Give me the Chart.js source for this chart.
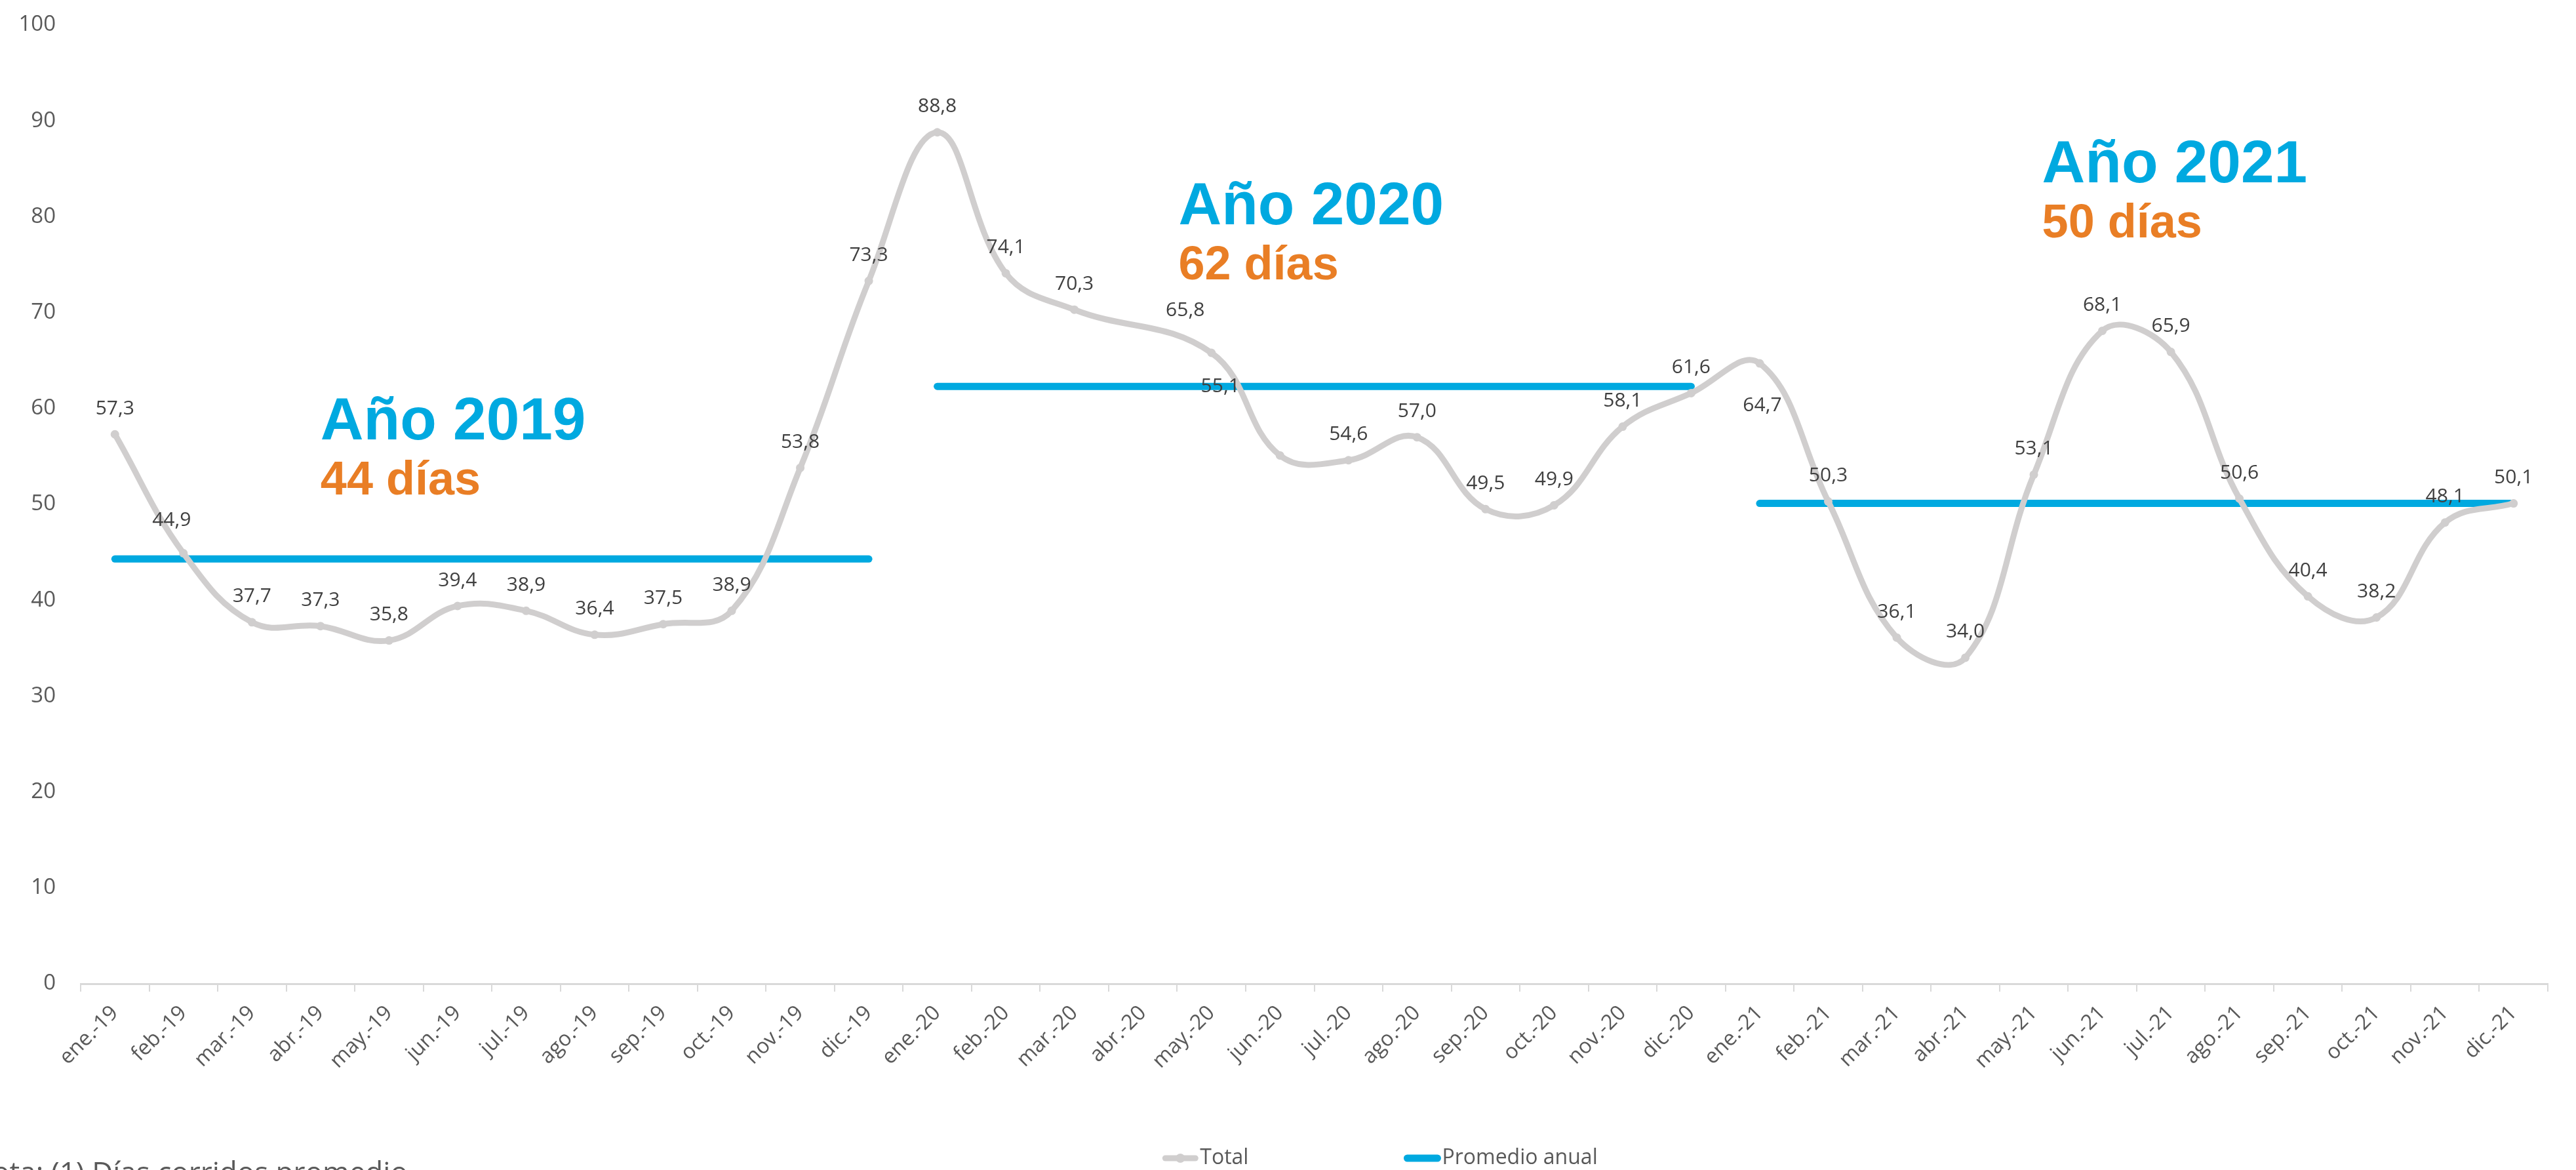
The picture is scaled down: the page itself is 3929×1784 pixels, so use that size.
<!DOCTYPE html>
<html lang="es">
<head>
  <meta charset="UTF-8">
  <title>Días corridos promedio</title>
  <script src="https://cdn.jsdelivr.net/npm/chart.js"></script>
  <style>
    body {
      margin: 0;
      background: #fff;
      overflow: hidden;
    }
    #contenedor {
      position: relative;
      width: 3929px;
      height: 1784px;
    }
    #nota {
      position: absolute;
      left: -45px;
      top: 1764px;
      font-family: 'Open Sans', sans-serif;
      font-size: 44px;
      line-height: 1;
      color: #595959;
      white-space: nowrap;
    }
  </style>
</head>
<body>
  <div id="contenedor">
    <canvas id="grafico" width="3929" height="1784"></canvas>
    <div id="nota">Nota: (1) Días corridos promedio</div>
  </div>

  <script>
    // datos
    const meses = ['ene.', 'feb.', 'mar.', 'abr.', 'may.', 'jun.', 'jul.', 'ago.', 'sep.', 'oct.', 'nov.', 'dic.'];
    const anios = ['19', '20', '21'];
    const total2019 = [57.3, 44.9, 37.7, 37.3, 35.8, 39.4, 38.9, 36.4, 37.5, 38.9, 53.8, 73.3];
    const total2020 = [88.8, 74.1, 70.3, null, 65.8, 55.1, 54.6, 57.0, 49.5, 49.9, 58.1, 61.6];
    const total2021 = [64.7, 50.3, 36.1, 34.0, 53.1, 68.1, 65.9, 50.6, 40.4, 38.2, 48.1, 50.1];
    const promedioAnual = [44.3, 62.3, 50.1];
    const titulosAnio = ['Año 2019', 'Año 2020', 'Año 2021'];
    const diasAnio = ['44 días', '62 días', '50 días'];

    const AZUL = '#00A9E0';
    const NARANJA = '#E97E25';
    const GRIS = '#D0CECE';
    const TEXTO = '#595959';

    const etiquetas = anios.flatMap(a => meses.map(m => m + '-' + a));
    const totales = [...total2019, ...total2020, ...total2021];
    const promedios = anios.flatMap((a, i) => meses.map(() => promedioAnual[i]));
    const anioDe = i => Math.floor(i / 12);

    // dónde va cada título de año (índice de mes, valor del eje)
    const anclasTitulo = [[3.0, 56.8], [15.52, 79.2], [28.12, 83.6]];
    // etiquetas que en el original están corridas (dx, dy en px)
    const desplazamientos = { 1: [-18, -50], 16: [-40, -65], 17: [-91, -105], 24: [4, 64] };

    const pluginEtiquetas = {
      id: 'etiquetas',
      afterDatasetsDraw(chart) {
        const ctx = chart.ctx;
        const meta = chart.getDatasetMeta(0);
        const x = chart.scales.x, y = chart.scales.y;
        ctx.save();

        // valores de cada punto
        ctx.font = '30px "Open Sans"';
        ctx.fillStyle = '#404040';
        ctx.textAlign = 'center';
        ctx.textBaseline = 'middle';
        meta.data.forEach((pt, i) => {
          const v = totales[i];
          if (v === null) return;
          const d = desplazamientos[i] || [0, -39];
          ctx.fillText(v.toFixed(1).replace('.', ','), pt.x + d[0], pt.y + d[1]);
        });

        // títulos de cada año
        ctx.textAlign = 'left';
        ctx.textBaseline = 'alphabetic';
        titulosAnio.forEach((t, i) => {
          const px = x.getPixelForValue(anclasTitulo[i][0]);
          const py = y.getPixelForValue(anclasTitulo[i][1]);
          ctx.font = 'bold 91px "Liberation Sans"';
          ctx.fillStyle = AZUL;
          ctx.fillText(t, px, py);
          ctx.font = 'bold 72px "Liberation Sans"';
          ctx.fillStyle = NARANJA;
          ctx.fillText(diasAnio[i], px, py + 84);
        });
        ctx.restore();
      }
    };

    const pluginLeyenda = {
      id: 'leyenda',
      afterDraw(chart) {
        const ctx = chart.ctx;
        const items = [
          { texto: 'Total', color: GRIS, punto: true },
          { texto: 'Promedio anual', color: AZUL, punto: false }
        ];
        ctx.save();
        ctx.font = '32px "Open Sans"';
        const anchos = items.map(it => 56 + 2 + ctx.measureText(it.texto).width);
        const separacion = 237;
        const totalAncho = anchos[0] + anchos[1] + separacion;
        let xi = (chart.width - totalAncho) / 2 + 140;
        const yc = 1766;
        items.forEach((it, i) => {
          ctx.strokeStyle = it.color;
          ctx.lineWidth = it.punto ? 9 : 11;
          ctx.lineCap = 'round';
          ctx.beginPath();
          ctx.moveTo(xi + 5, yc);
          ctx.lineTo(xi + 51, yc);
          ctx.stroke();
          if (it.punto) {
            ctx.fillStyle = it.color;
            ctx.beginPath();
            ctx.arc(xi + 28, yc, 7, 0, Math.PI * 2);
            ctx.fill();
          }
          ctx.fillStyle = TEXTO;
          ctx.textAlign = 'left';
          ctx.textBaseline = 'middle';
          ctx.fillText(it.texto, xi + 58, yc);
          xi += anchos[i] + separacion;
        });
        ctx.restore();
      }
    };

    new Chart(document.getElementById('grafico'), {
      type: 'line',
      data: {
        labels: etiquetas,
        datasets: [
          {
            label: 'Total',
            data: totales,
            borderColor: GRIS,
            borderWidth: 9,
            tension: 0.4,
            spanGaps: true,
            pointRadius: 6.5,
            pointBackgroundColor: GRIS,
            pointBorderWidth: 0,
            fill: false
          },
          {
            label: 'Promedio anual',
            data: promedios,
            borderColor: AZUL,
            borderWidth: 11,
            borderCapStyle: 'round',
            tension: 0,
            pointRadius: 0,
            fill: false,
            segment: {
              borderColor: c => anioDe(c.p0DataIndex) !== anioDe(c.p1DataIndex) ? 'rgba(0,0,0,0)' : AZUL
            }
          }
        ]
      },
      options: {
        responsive: false,
        devicePixelRatio: 1,
        animation: false,
        events: [],
        layout: { padding: { top: 38, right: 43, bottom: 0, left: 0 } },
        plugins: {
          legend: { display: false },
          tooltip: { enabled: false }
        },
        scales: {
          x: {
            offset: true,
            grid: {
              display: true,
              offset: true,
              drawOnChartArea: false,
              drawTicks: true,
              tickLength: 12,
              color: '#D9D9D9',
              lineWidth: 2
            },
            border: { display: true, color: '#D9D9D9', width: 3 },
            ticks: {
              autoSkip: false,
              minRotation: 45,
              maxRotation: 45,
              padding: 14,
              color: TEXTO,
              font: { family: 'Open Sans', size: 32 }
            },
            afterFit: s => { s.height = 284; }
          },
          y: {
            min: 0,
            max: 100,
            grid: { display: false, drawTicks: false },
            border: { display: false },
            ticks: {
              stepSize: 10,
              padding: 38,
              color: TEXTO,
              font: { family: 'Open Sans', size: 33 }
            },
            // el padding de las marcas no debe empujar el área del gráfico
            afterFit: s => { s.width = 123; s.paddingTop = 20; s.paddingBottom = 20; }
          }
        }
      },
      plugins: [pluginEtiquetas, pluginLeyenda]
    });
  </script>
</body>
</html>
